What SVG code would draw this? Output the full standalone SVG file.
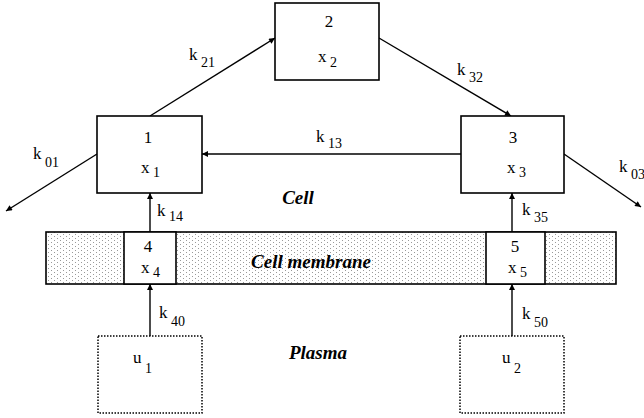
<svg xmlns="http://www.w3.org/2000/svg" width="644" height="418" viewBox="0 0 644 418">
<style>
.t{font-family:"Liberation Serif","Times New Roman",serif;font-size:17px;fill:#000}
.s{font-size:14px}
.lab{font-family:"Liberation Serif","Times New Roman",serif;font-size:19px;font-weight:bold;font-style:italic;fill:#000}
.box{fill:#fff;stroke:#000;stroke-width:1.6}
.dbox{fill:#fff;stroke:#000;stroke-width:1.5;stroke-dasharray:1.5 1.5}
.ln{stroke:#000;stroke-width:1.4;fill:none;marker-end:url(#ah)}
</style>
<defs>
<marker id="ah" viewBox="0 0 10 10" refX="10" refY="5" markerWidth="8" markerHeight="6" markerUnits="userSpaceOnUse" orient="auto">
<path d="M0,0 L10,5 L0,10 z" fill="#000"/>
</marker>
<pattern id="dots" width="6" height="4" patternUnits="userSpaceOnUse">
<rect width="6" height="4" fill="#fff"/>
<rect x="0" y="0" width="1" height="1" fill="#999"/>
<rect x="3" y="2" width="1" height="1" fill="#999"/>
</pattern>
</defs>
<g id="membrane">
<rect x="46" y="232" width="570" height="52" fill="url(#dots)" stroke="#000" stroke-width="1.6"/>
<text class="lab" x="311" y="268" text-anchor="middle">Cell membrane</text>
</g>
<g id="connectors">
<line class="ln" x1="150" y1="116" x2="275" y2="38"/>
<line class="ln" x1="379" y1="38" x2="511" y2="116"/>
<line class="ln" x1="461" y1="154" x2="202" y2="154"/>
<line class="ln" x1="97" y1="154" x2="6" y2="211"/>
<line class="ln" x1="564" y1="154" x2="641" y2="207"/>
<line class="ln" x1="150" y1="232" x2="150" y2="193"/>
<line class="ln" x1="512" y1="232" x2="512" y2="193"/>
<line class="ln" x1="150" y1="336" x2="150" y2="284"/>
<line class="ln" x1="512" y1="336" x2="512" y2="284"/>
<text class="t" x="189" y="60">k<tspan class="s" dy="7"> 21</tspan></text>
<text class="t" x="457" y="75">k<tspan class="s" dy="7"> 32</tspan></text>
<text class="t" x="316" y="142">k<tspan class="s" dy="6"> 13</tspan></text>
<text class="t" x="33" y="159">k<tspan class="s" dy="8"> 01</tspan></text>
<text class="t" x="619" y="172">k<tspan class="s" dy="7"> 03</tspan></text>
<text class="t" x="157" y="216">k<tspan class="s" dy="5"> 14</tspan></text>
<text class="t" x="522" y="215">k<tspan class="s" dy="7"> 35</tspan></text>
<text class="t" x="159" y="318">k<tspan class="s" dy="8"> 40</tspan></text>
<text class="t" x="522" y="319">k<tspan class="s" dy="8"> 50</tspan></text>
</g>
<g id="n1">
<rect class="box" x="97" y="116" width="105" height="77"/>
<text class="t" x="148" y="143" text-anchor="middle">1</text>
<text class="t" x="141" y="173">x<tspan class="s" dy="4"> 1</tspan></text>
</g>
<g id="n2">
<rect class="box" x="275" y="3" width="104" height="77"/>
<text class="t" x="329" y="27" text-anchor="middle">2</text>
<text class="t" x="318" y="62">x<tspan class="s" dy="5"> 2</tspan></text>
</g>
<g id="n3">
<rect class="box" x="461" y="116" width="103" height="77"/>
<text class="t" x="513" y="143" text-anchor="middle">3</text>
<text class="t" x="507" y="173">x<tspan class="s" dy="4"> 3</tspan></text>
</g>
<g id="n4">
<rect class="box" x="124" y="232" width="52" height="52"/>
<text class="t" x="148" y="252" text-anchor="middle">4</text>
<text class="t" x="141" y="273">x<tspan class="s" dy="4"> 4</tspan></text>
</g>
<g id="n5">
<rect class="box" x="486" y="232" width="59" height="52"/>
<text class="t" x="515" y="252" text-anchor="middle">5</text>
<text class="t" x="508" y="273">x<tspan class="s" dy="4"> 5</tspan></text>
</g>
<g id="u1">
<rect class="dbox" x="98" y="336" width="104" height="77"/>
<text class="t" x="133" y="363">u<tspan class="s" dy="10"> 1</tspan></text>
</g>
<g id="u2">
<rect class="dbox" x="460" y="336" width="104" height="77"/>
<text class="t" x="502" y="363">u<tspan class="s" dy="10"> 2</tspan></text>
</g>
<g id="labels">
<text class="lab" x="298" y="204" text-anchor="middle">Cell</text>
<text class="lab" x="318" y="359" text-anchor="middle">Plasma</text>
</g>
</svg>
